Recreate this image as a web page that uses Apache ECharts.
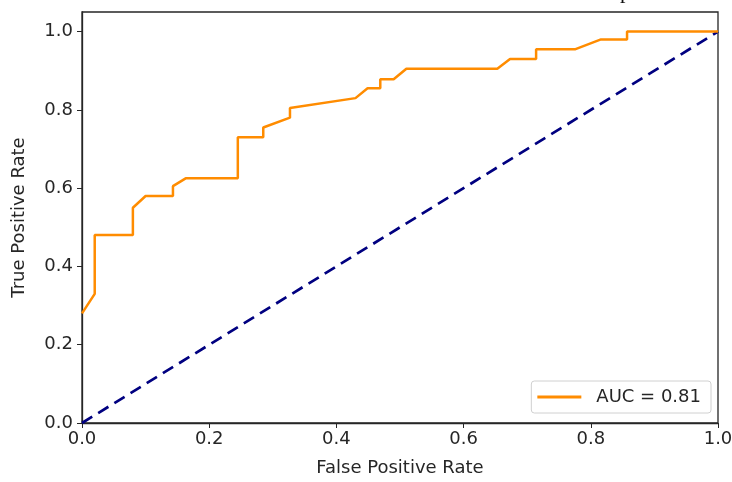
<!DOCTYPE html>
<html>
<head>
<meta charset="utf-8">
<script src="https://cdn.jsdelivr.net/npm/echarts@6/dist/echarts.min.js"></script>
<style>
  html, body { margin: 0; padding: 0; background: #fff; }
  #chart { width: 732px; height: 482px; }
</style>
</head>
<body>
<div id="chart"></div>
<script>
// ROC curve points
var fpr = [0, 0.02, 0.02, 0.08, 0.08, 0.10, 0.143, 0.143, 0.163, 0.245, 0.245, 0.285, 0.285,
    0.327, 0.327, 0.43, 0.449, 0.469, 0.469, 0.49, 0.51, 0.653, 0.673, 0.714, 0.714,
    0.776, 0.816, 0.857, 0.857, 1.0];
var tpr = [0.28, 0.33, 0.48, 0.48, 0.55, 0.58, 0.58, 0.605, 0.625, 0.625, 0.73, 0.73, 0.755,
    0.78, 0.805, 0.83, 0.855, 0.855, 0.878, 0.878, 0.905, 0.905, 0.93, 0.93, 0.955,
    0.955, 0.98, 0.98, 1.0, 1.0];
var chance = [[0, 0], [1, 1]];
var aucLabel = 'AUC = 0.81';
var ticks = [0, 0.2, 0.4, 0.6, 0.8, 1.0];

var font = 'DejaVu Sans';
var ink = '#262626';
var myChart = echarts.init(document.getElementById('chart'));
myChart.setOption({
    animation: false,
    textStyle: {fontFamily: font},
    grid: {
        left: 82, right: 14, top: 12, bottom: 59,
        outerBoundsMode: 'none',
        show: true, borderColor: ink, borderWidth: 1.3
    },
    // bit of the caption cut off above the figure
    graphic: [{
        type: 'text', left: 620, top: -19,
        style: {text: 'p', font: '22px "Liberation Serif"', fill: '#111'}
    }],
    legend: {
        data: [{name: aucLabel, icon: 'rect'}],
        right: 21, bottom: 69,
        borderColor: '#d0d0d0', borderWidth: 1, borderRadius: 3,
        padding: [7, 10, 7, 6],
        itemWidth: 44, itemHeight: 3,
        itemGap: 0,
        textStyle: {fontSize: 18, color: ink, fontFamily: font, padding: [0, 0, 0, 10]}
    },
    xAxis: {
        type: 'value', min: 0, max: 1, interval: 0.2,
        name: 'False Positive Rate', nameLocation: 'middle', nameGap: 36,
        nameTextStyle: {fontSize: 18, color: ink},
        axisLine: {show: true, lineStyle: {color: ink, width: 1.3}},
        axisTick: {show: true, length: 5, lineStyle: {color: ink}},
        axisLabel: {fontSize: 18, color: ink, margin: 7,
            formatter: function (v) { return v.toFixed(1); }},
        splitLine: {show: false}
    },
    yAxis: {
        type: 'value', min: 0, max: 1.05,
        name: 'True Positive Rate', nameLocation: 'middle', nameGap: 54,
        nameTextStyle: {fontSize: 18, color: ink},
        axisLine: {show: true, lineStyle: {color: ink, width: 1.3}},
        axisTick: {show: true, length: 5, lineStyle: {color: ink}, customValues: ticks},
        axisLabel: {fontSize: 18, color: ink, margin: 9, customValues: ticks,
            formatter: function (v) { return v.toFixed(1); }},
        splitLine: {show: false}
    },
    series: [
        {
            name: aucLabel,
            type: 'line',
            data: fpr.map(function (x, i) { return [x, tpr[i]]; }),
            showSymbol: false,
            symbol: 'none',
            lineStyle: {color: '#ff8c00', width: 2.5},
            itemStyle: {color: '#ff8c00'},
            z: 3
        },
        {
            name: 'chance',
            type: 'line',
            data: chance,
            showSymbol: false,
            symbol: 'none',
            lineStyle: {color: '#000080', width: 2.7, type: [12, 7]},
            itemStyle: {color: '#000080'},
            z: 2
        }
    ]
});
</script>
</body>
</html>
